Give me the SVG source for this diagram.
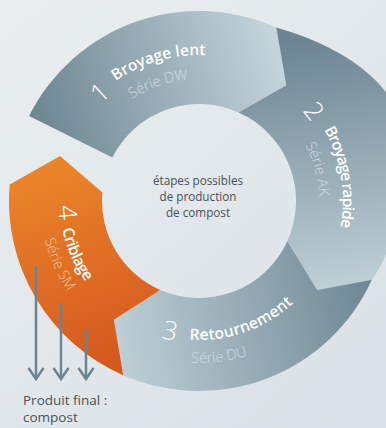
<svg xmlns="http://www.w3.org/2000/svg" width="386" height="428" viewBox="0 0 386 428">
<defs>
<linearGradient id="bg" x1="0" y1="0" x2="386" y2="428" gradientUnits="userSpaceOnUse"><stop offset="0" stop-color="#eaeef0"/><stop offset="1" stop-color="#d9e1e6"/></linearGradient>
<linearGradient id="g1" x1="40" y1="150" x2="285" y2="75" gradientUnits="userSpaceOnUse"><stop offset="0" stop-color="#6c8591"/><stop offset="1" stop-color="#c4d4db"/></linearGradient>
<linearGradient id="g2" x1="300" y1="40" x2="335" y2="290" gradientUnits="userSpaceOnUse"><stop offset="0" stop-color="#6c8591"/><stop offset="1" stop-color="#c0d0d7"/></linearGradient>
<linearGradient id="g3" x1="370" y1="290" x2="120" y2="345" gradientUnits="userSpaceOnUse"><stop offset="0" stop-color="#6f8894"/><stop offset="1" stop-color="#bdced5"/></linearGradient>
<linearGradient id="g4" x1="110" y1="365" x2="45" y2="170" gradientUnits="userSpaceOnUse"><stop offset="0" stop-color="#d5581f"/><stop offset="1" stop-color="#ea842a"/></linearGradient>
<marker id="arr" viewBox="-14 -10 16 20" refX="0" refY="0" markerWidth="16" markerHeight="20" markerUnits="userSpaceOnUse" orient="auto" overflow="visible"><path d="M -11 -7.5 L 0 0 L -11 7.5" fill="none" stroke="#6d8490" stroke-width="2.5"/></marker>
<path id="p1n" d="M 100.6 104.3 A 138 138 0 0 1 175.0 65.1"/>
<path id="p1t" d="M 115.7 81.1 A 146 146 0 0 1 272 74.6"/>
<path id="p1s" d="M 132.2 98.9 A 122 122 0 0 1 260 95.3"/>
<path id="p2n" d="M 302.2 110.9 A 137 137 0 0 1 327.7 247.9"/>
<path id="p2t" d="M 324.1 129.6 A 144 144 0 0 1 309.3 293.6"/>
<path id="p2s" d="M 305.2 145.0 A 120 120 0 0 1 302.9 261"/>
<path id="p3n" d="M 161.1 337.8 A 142 142 0 0 0 270 324"/>
<path id="p3t" d="M 189.5 339.7 A 139 139 0 0 0 319.4 270.5"/>
<path id="p3s" d="M 191.1 362.8 A 162 162 0 0 0 303.1 325.1"/>
<path id="p4n" d="M 58.1 205.9 A 141 141 0 0 0 128.5 323.1"/>
<path id="p4t" d="M 62.3 229.0 A 139 139 0 0 0 129.5 321.4"/>
<path id="p4s" d="M 44.7 239.5 A 159 159 0 0 0 119.5 338.7"/>
</defs>
<style>
.num{font-family:"Open Sans",Lato,sans-serif;font-weight:300;font-size:26px;fill:#ffffff}
.ttl{font-family:"Open Sans",Lato,sans-serif;font-weight:600;font-size:15.5px;fill:#ffffff}
.sub{font-family:"Open Sans",Lato,sans-serif;font-weight:300;font-size:14.5px;fill:#d2dde2}
.subo{fill:#f7c49e}
.lbl{font-family:"Open Sans","Noto Sans",sans-serif;fill:#4b5156}
.arrow{stroke:#6d8490;stroke-width:2.5;fill:none;marker-end:url(#arr)}
</style>
<rect x="0" y="0" width="386" height="428" fill="url(#bg)"/>
<g id="seg1">
<path d="M 29.1 115.9 A 190 190 0 0 1 276.3 27.4 L 286.3 85.2 L 238.5 112.4 A 97 97 0 0 0 112.3 157.6 Z" fill="url(#g1)"/>
<text class="num"><textPath href="#p1n">1</textPath></text>
<text class="ttl"><textPath href="#p1t" textLength="95" lengthAdjust="spacing">Broyage lent</textPath></text>
<text class="sub"><textPath href="#p1s">Série DW</textPath></text>
</g>
<g id="seg2">
<path d="M 276.3 27.4 C 320 40 365 62 388 95 C 412 140 405 235 371.9 279.8 L 317.2 290.1 L 287.3 241.2 A 97 97 0 0 0 238.5 112.4 L 286.3 85.2 Z" fill="url(#g2)"/>
<text class="num"><textPath href="#p2n">2</textPath></text>
<text class="ttl"><textPath href="#p2t" textLength="101" lengthAdjust="spacing">Broyage rapide</textPath></text>
<text class="sub"><textPath href="#p2s">Série AK</textPath></text>
</g>
<g id="seg3">
<path d="M 371.9 279.8 A 190 190 0 0 1 123.2 375.2 L 113.9 319.7 L 160.3 290 A 97 97 0 0 0 287.3 241.2 L 317.2 290.1 Z" fill="url(#g3)"/>
<text class="num"><textPath href="#p3n">3</textPath></text>
<text class="ttl"><textPath href="#p3t" textLength="113" lengthAdjust="spacing">Retournement</textPath></text>
<text class="sub"><textPath href="#p3s">Série DU</textPath></text>
</g>
<g id="seg4">
<path d="M 123.2 375.2 A 190 190 0 0 1 9.7 184.4 L 60.1 155.9 L 102.4 192.5 A 97 97 0 0 0 160.3 290 L 113.9 319.7 Z" fill="url(#g4)"/>
<text class="num"><textPath href="#p4n">4</textPath></text>
<text class="ttl"><textPath href="#p4t" textLength="58" lengthAdjust="spacing">Criblage</textPath></text>
<text class="sub subo"><textPath href="#p4s">Série SM</textPath></text>
</g>
<g id="center">
<text class="lbl" font-size="11.7" text-anchor="middle"><tspan x="198" y="185">étapes possibles</tspan><tspan x="198" y="201">de production</tspan><tspan x="198" y="217">de compost</tspan></text>
</g>
<g id="connectors">
<line class="arrow" x1="36" y1="266" x2="36" y2="379"/>
<line class="arrow" x1="61" y1="303" x2="61" y2="379"/>
<line class="arrow" x1="86" y1="330" x2="86" y2="379"/>
</g>
<g id="output">
<text class="lbl" font-size="13.5"><tspan x="23" y="405">Produit final :</tspan><tspan x="23" y="422">compost</tspan></text>
</g>
</svg>
